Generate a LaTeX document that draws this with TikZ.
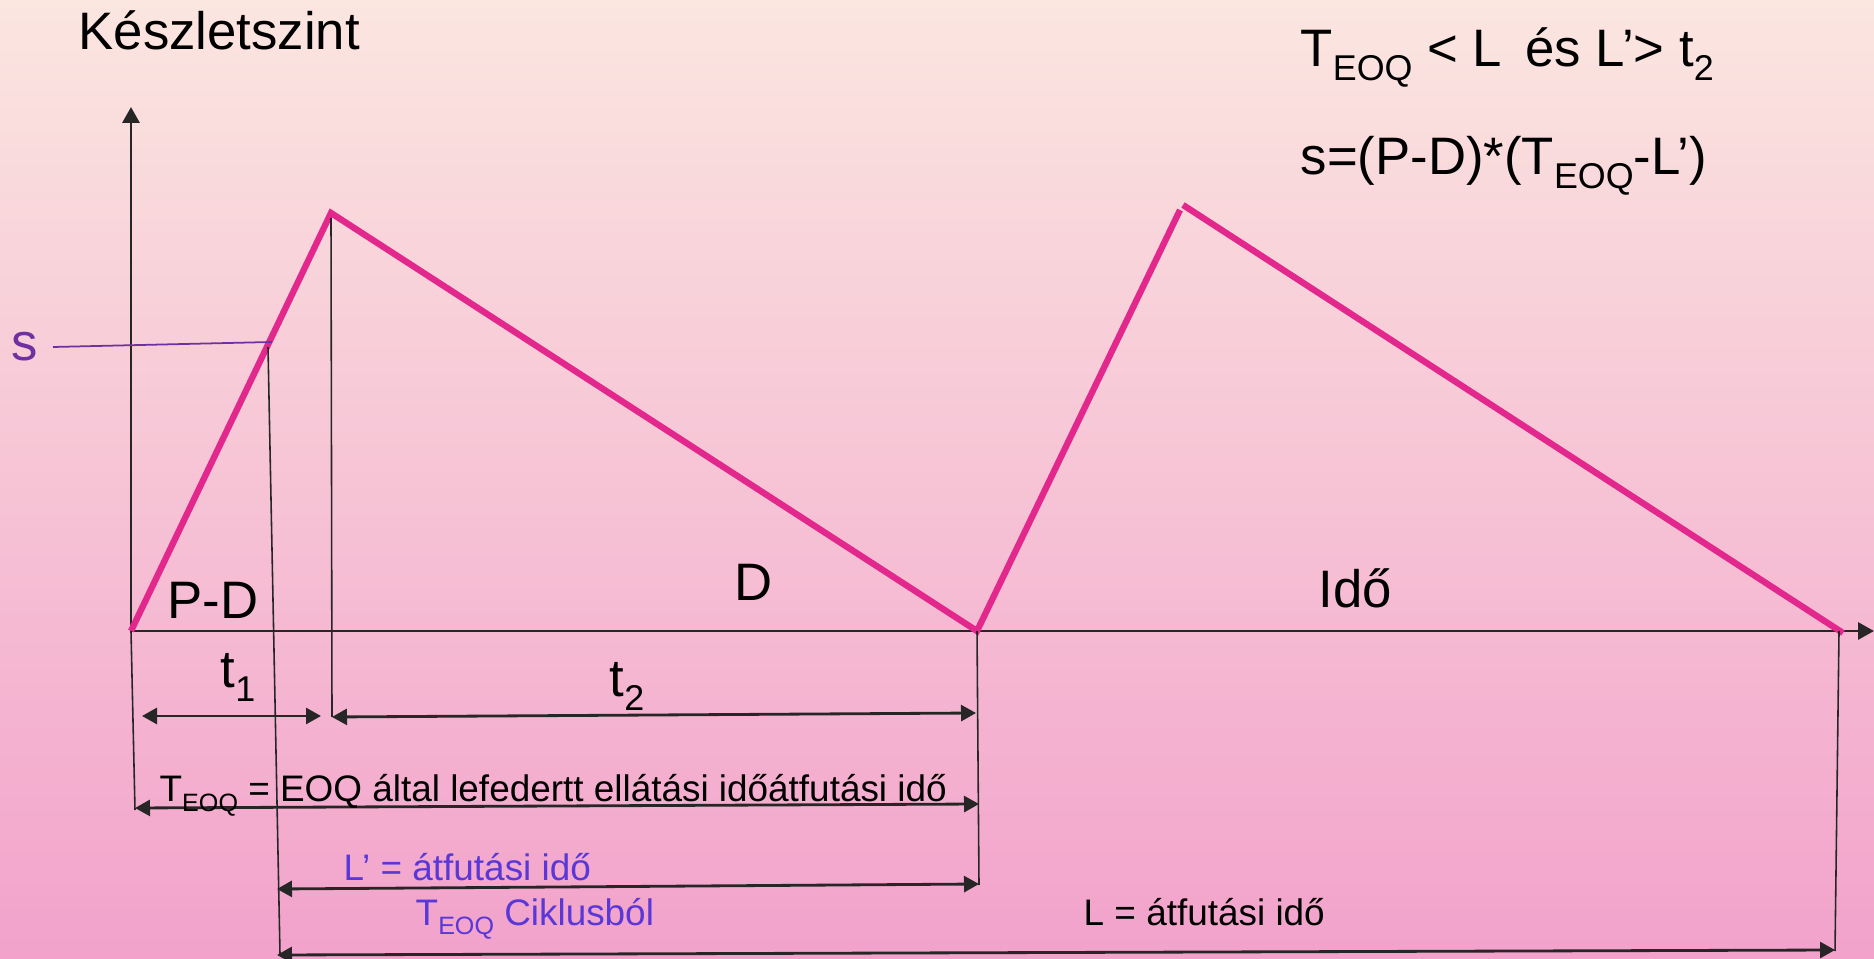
\documentclass[tikz,border=0pt]{standalone}
\usepackage{fontspec}
\setmainfont{Liberation Sans}
\usepackage{graphicx}
\usetikzlibrary{arrows.meta}

\definecolor{bgtop}{HTML}{FBE6E0}
\definecolor{bgmid}{HTML}{F6C3D6}
\definecolor{bgbot}{HTML}{F2A2CB}
\definecolor{stockpink}{HTML}{E2288D}
\definecolor{splum}{HTML}{7030A0}
\definecolor{leadblue}{HTML}{5A38D8}
\definecolor{inkgray}{HTML}{262626}

\newcommand{\idx}[1]{\raisebox{-0.25em}{\scalebox{0.68}{#1}}}

\begin{document}
\begin{tikzpicture}[
    stock/.style={stockpink,line width=1.8pt},
    axis/.style={inkgray,line width=0.85pt,-{Triangle[length=0.16cm,width=0.17cm]}},
    guide/.style={inkgray,line width=0.45pt},
    span/.style={inkgray,line width=0.8pt,
        {Triangle[length=0.15cm,width=0.16cm]}-{Triangle[length=0.15cm,width=0.16cm]}},
    big/.style={inner sep=0pt,font=\fontsize{15}{18}\selectfont},
    small/.style={inner sep=0pt,font=\fontsize{10.5}{12.6}\selectfont},
    every node/.style={anchor=base west}
]

\useasboundingbox (-1.31,-3.28) rectangle (17.43,6.31);
\shade[top color=bgtop,middle color=bgmid,bottom color=bgbot]
    (-1.31,-3.28) rectangle (17.43,6.31);

% axes
\coordinate (O)  at (0,0);
\coordinate (Y)  at (0,5.24);
\coordinate (X)  at (17.43,0);

\draw[axis] (O)--(Y);
\draw[axis] (O)--(X);

% stock level
\coordinate (P1)  at (2.00,4.18);
\coordinate (V1)  at (8.46,0);
\coordinate (P2a) at (10.49,4.21);
\coordinate (P2b) at (10.52,4.26);
\coordinate (E)   at (17.12,-0.02);

\draw[stock] (O)--(P1)--(V1)--(P2a);
\draw[stock] (P2b)--(E);

% reorder level s
\coordinate (s0) at (-0.78,2.84);
\coordinate (s1) at (1.41,2.89);
\coordinate (S)  at (1.37,2.84);
\draw[splum,line width=0.5pt] (s0)--(s1);

% guide lines
\coordinate (Ob) at (0.04,-1.79);
\coordinate (Pt) at (2.00,4.13);
\coordinate (Pb) at (2.01,-0.86);
\coordinate (Sb) at (1.49,-3.23);
\coordinate (Vb) at (8.48,-2.54);
\coordinate (Et) at (17.08,0);
\coordinate (Eb) at (17.04,-3.20);

\draw[guide] (O)--(Ob);
\draw[guide] (Pt)--(Pb);
\draw[guide] (S)--(Sb);
\draw[guide] (V1)--(Vb);
\draw[guide] (Et)--(Eb);

% spans
\coordinate (t1a) at (0.11,-0.85);
\coordinate (t1b) at (1.90,-0.85);
\coordinate (t2a) at (2.01,-0.86);
\coordinate (t2b) at (8.45,-0.82);
\coordinate (Ta)  at (0.04,-1.77);
\coordinate (Tb)  at (8.48,-1.73);
\coordinate (La1) at (1.46,-2.58);
\coordinate (Lb1) at (8.48,-2.53);
\coordinate (La)  at (1.46,-3.24);
\coordinate (Lb)  at (17.04,-3.19);

\draw[span] (t1a)--(t1b);
\draw[span] (t2a)--(t2b);
\draw[span] (Ta)--(Tb);
\draw[span] (La1)--(Lb1);
\draw[span] (La)--(Lb);

% labels
\node[big] (ylab) at (-0.53,5.81) {Készletszint};
\node[big] (cond) at (11.69,5.64) {T\idx{EOQ} < L\, és L’> t\idx{2}};
\node[big] (sfor) at (11.69,4.56) {s=(P-D)*(T\idx{EOQ}-L’)};
\node[big,splum,anchor=center] (slab) at (-1.06,2.84) {s};

\node[big] (pd)   at (0.36,0.12) {P-D};
\node[big] (dlab) at (6.03,0.30) {D};
\node[big] (ido)  at (11.87,0.23) {Idő};
\node[big] (t1)   at (0.89,-0.57) {t\idx{1}};
\node[big] (t2)   at (4.78,-0.66) {t\idx{2}};

\node[small] (teoq) at (0.28,-1.71)
    {T\idx{EOQ} = EOQ által lefedertt ellátási időátfutási idő};
\node[small,leadblue] (lv)  at (2.12,-2.49) {L’ = átfutási idő};
\node[small,leadblue] (cyc) at (2.84,-2.94) {T\idx{EOQ} Ciklusból};
\node[small] (llab) at (9.52,-2.94) {L = átfutási idő};

\end{tikzpicture}
\end{document}
